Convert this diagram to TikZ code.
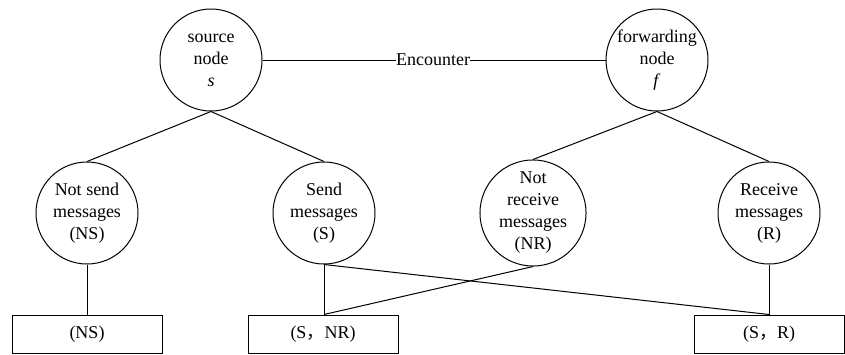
\documentclass[tikz,border=0pt]{standalone}
\usepackage{fontspec}
\setmainfont{Liberation Serif}
\newfontfamily\cjk{Noto Sans CJK SC}

\begin{document}
\begin{tikzpicture}[x=0.5pt, y=-0.5pt, line width=0.5pt,
    state/.style={circle, draw, minimum size=51pt, inner sep=0pt, align=center, font=\fontsize{9}{11}\selectfont},
    outcome/.style={rectangle, draw, minimum width=75pt, minimum height=19pt, font=\fontsize{9}{11}\selectfont}]
        \useasboundingbox (0, 0) rectangle (845, 354);
        % Nodes
        \node (src) at (211, 60) [state] {source\\node\\\textit{s}};
        \node (fwd) at (657, 60) [state] {forwarding\\node\\\textit{f}};
        \node (enc) at (433, 60) [inner sep=0pt, font=\fontsize{9}{11}\selectfont] {Encounter};
        \node (ns) at (87, 213) [state] {Not send\\messages\\(NS)};
        \node (s) at (324, 213) [state] {Send\\messages\\(S)};
        \node (nr) at (533, 213) [state] {Not\\receive\\messages\\(NR)};
        \node (r) at (769, 213) [state] {Receive\\messages\\(R)};
        \node (bns) at (87, 334) [outcome] {(NS)};
        \node (bsnr) at (323, 334) [outcome] {(S{\cjk ，}NR)};
        \node (bsr) at (769, 334) [outcome] {(S{\cjk ，}R)};
        % Edges
        \draw (src) -- (enc);
        \draw (enc) -- (fwd);
        \draw (src.south) -- (ns.north);
        \draw (src.south) -- (s.north);
        \draw (fwd.south) -- (nr.north);
        \draw (fwd.south) -- (r.north);
        \draw (ns.south) -- (bns.north);
        \draw (s.south) -- (s.south |- bsnr.north);
        \draw (nr.south) -- (s.south |- bsnr.north);
        \draw (s.south) -- (bsr.north);
        \draw (r.south) -- (bsr.north);
    \end{tikzpicture}
\end{document}
